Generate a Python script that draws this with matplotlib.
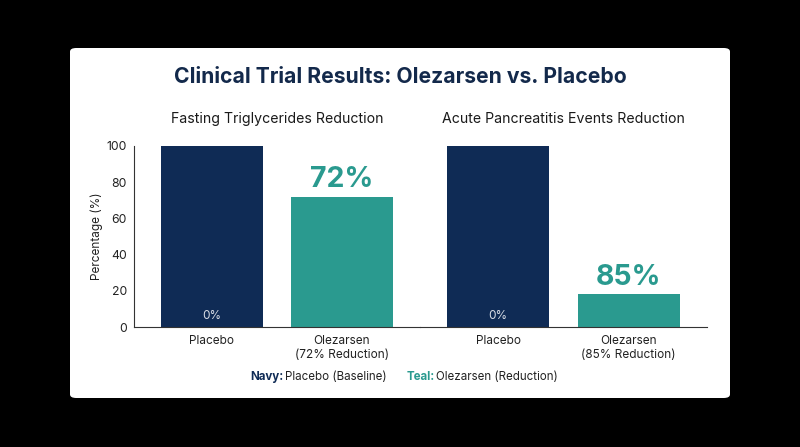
import matplotlib.pyplot as plt
from matplotlib.patches import FancyBboxPatch

plt.rcParams['font.family'] = ['Inter', 'DejaVu Sans']

navy = '#0f2b55'
teal = '#2a9a8f'

panel_titles = ['Fasting Triglycerides Reduction', 'Acute Pancreatitis Events Reduction']
groups = ['Placebo', 'Olezarsen']
tri_values = [100, 72]
panc_values = [100, 18]
tick_labels = [['Placebo', 'Olezarsen\n(72% Reduction)'],
               ['Placebo', 'Olezarsen\n(85% Reduction)']]
big_labels = ['72%', '85%']

fig = plt.figure(figsize=(8, 4.47), dpi=100)
fig.patch.set_facecolor('black')

card = FancyBboxPatch((70 / 800, 1 - 398 / 447), 660 / 800, 350 / 447,
                      boxstyle='round,pad=0,rounding_size=0.008',
                      transform=fig.transFigure, facecolor='white', edgecolor='none', zorder=-10)
fig.patches.append(card)

fig.text(0.5, 1 - 77 / 447, 'Clinical Trial Results: Olezarsen vs. Placebo',
         ha='center', va='center', fontsize=15.2, fontweight='bold', color='#13294b')

ax1 = fig.add_axes([134 / 800, 120 / 447, 286 / 800, 181 / 447])
ax2 = fig.add_axes([420 / 800, 120 / 447, 287 / 800, 181 / 447], sharey=ax1)

for i, (ax, vals) in enumerate(zip([ax1, ax2], [tri_values, panc_values])):
    x = range(len(groups))
    ax.bar(x, vals, width=0.78, color=[navy, teal])
    ax.set_xlim(-0.6, 1.6)
    ax.set_ylim(0, 100)
    ax.set_xticks(list(x))
    ax.set_xticklabels(tick_labels[i], fontsize=8.5, color='#222222', linespacing=1.2)
    ax.tick_params(axis='x', length=0, pad=6)
    ax.set_facecolor('none')
    for s in ['top', 'right']:
        ax.spines[s].set_visible(False)
    ax.spines['bottom'].set_color('#333333')
    ax.text(0, 3, '0%', ha='center', va='bottom', fontsize=8.5, color='#d8dde6')
    ax.text(1, vals[1] + 2, big_labels[i], ha='center', va='bottom',
            fontsize=20.5, fontweight='bold', color=teal)
    cx = (ax.get_position().x0 + ax.get_position().x1) / 2
    fig.text(cx, 1 - 119 / 447, panel_titles[i], ha='center', va='center',
             fontsize=10.2, color='#1a1a1a')

ax1.set_yticks([0, 20, 40, 60, 80, 100])
ax1.tick_params(axis='y', labelsize=8.8, length=0, pad=5, colors='#222222')
ax1.spines['left'].set_color('#333333')
ax1.set_ylabel('Percentage (%)', fontsize=8.5, color='#222222', labelpad=3)
ax2.spines['left'].set_visible(False)
ax2.tick_params(axis='y', left=False, labelleft=False)

ly = 1 - 377 / 447
fig.text(250 / 800, ly, 'Navy:', ha='left', va='center', fontsize=8.3, fontweight='bold', color=navy)
fig.text(285 / 800, ly, 'Placebo (Baseline)', ha='left', va='center', fontsize=8.3, color='#222222')
fig.text(407 / 800, ly, 'Teal:', ha='left', va='center', fontsize=8.3, fontweight='bold', color=teal)
fig.text(436 / 800, ly, 'Olezarsen (Reduction)', ha='left', va='center', fontsize=8.3, color='#222222')

fig.savefig('out.png', dpi=100, facecolor=fig.get_facecolor())
